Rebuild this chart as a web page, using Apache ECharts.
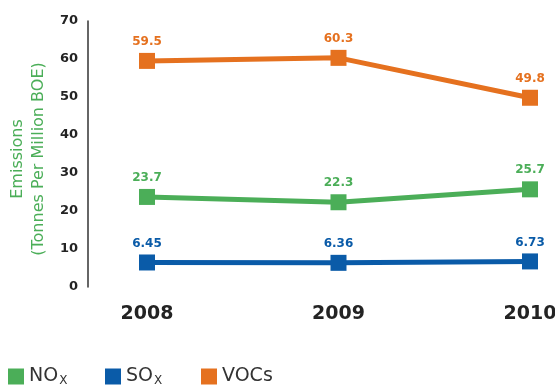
<!DOCTYPE html>
<html>
<head>
<meta charset="utf-8">
<script src="https://cdn.jsdelivr.net/npm/echarts@6/dist/echarts.min.js"></script>
<style>
html,body{margin:0;padding:0;background:#fff;}
#chart{width:555px;height:387px;}
</style>
</head>
<body>
<div id="chart"></div>
<script>
// Emissions intensity by year
const years = ['2008', '2009', '2010'];
const noxValues = [23.7, 22.3, 25.7];
const soxValues = [6.45, 6.36, 6.73];
const vocValues = [59.5, 60.3, 49.8];
const yTicks = [0, 10, 20, 30, 40, 50, 60, 70];
const seriesNames = ['NOx', 'SOx', 'VOCs'];

const GREEN = '#4bae58';
const BLUE = '#0a5ba8';
const ORANGE = '#e5711f';
const TEXT = '#232323';
const FONT = 'DejaVu Sans';

function lineSeries(name, data, color) {
  return {
    name: name,
    type: 'line',
    data: data,
    symbol: 'rect',
    symbolSize: 16,
    lineStyle: { color: color, width: 5 },
    itemStyle: { color: color },
    label: {
      show: true,
      position: 'top',
      distance: 5,
      color: color,
      fontFamily: FONT,
      fontWeight: 'bold',
      fontSize: 12
    },
    animation: false
  };
}

// legend entries with subscript X
const legendText = {
  NOx: '{a|NO}{s|X}',
  SOx: '{a|SO}{s|X}',
  VOCs: '{a|VOCs}'
};
const legendLeft = [3, 100, 196];

function legendFor(name, i) {
  return {
    left: legendLeft[i],
    top: 362,
    itemWidth: 16,
    itemHeight: 16,
    icon: 'rect',
    data: [name],
    formatter: function (n) { return legendText[n]; },
    textStyle: {
      color: TEXT,
      fontFamily: FONT,
      rich: {
        a: { fontSize: 19, fontFamily: FONT, color: '#333' },
        s: { fontSize: 12, fontFamily: FONT, color: '#333', verticalAlign: 'bottom', padding: [9, 0, 0, 1] }
      }
    }
  };
}

const chart = echarts.init(document.getElementById('chart'));
chart.setOption({
  backgroundColor: '#fff',
  animation: false,
  grid: { left: 147, right: 25, top: 21, bottom: 100, outerBoundsMode: 'none' },
  xAxis: {
    type: 'category',
    data: years,
    boundaryGap: false,
    axisLine: { show: false },
    axisTick: { show: false },
    axisLabel: {
      margin: 18,
      color: TEXT,
      fontFamily: FONT,
      fontSize: 19,
      fontWeight: 'bold'
    }
  },
  yAxis: {
    type: 'value',
    min: yTicks[0],
    max: yTicks[yTicks.length - 1],
    interval: 10,
    offset: 59,
    splitLine: { show: false },
    axisTick: { show: false },
    axisLine: { show: true, lineStyle: { color: '#333', width: 1.5 } },
    axisLabel: {
      margin: 10,
      color: TEXT,
      fontFamily: FONT,
      fontSize: 13,
      fontWeight: 'bold'
    },
    name: 'Emissions\n(Tonnes Per Million BOE)',
    nameLocation: 'middle',
    nameGap: 38,
    nameTextStyle: {
      color: GREEN,
      fontFamily: FONT,
      fontSize: 16,
      lineHeight: 21,
      padding: [0, 10, 0, 0]
    }
  },
  legend: seriesNames.map(legendFor),
  series: [
    lineSeries('NOx', noxValues, GREEN),
    lineSeries('SOx', soxValues, BLUE),
    lineSeries('VOCs', vocValues, ORANGE)
  ]
});
</script>
</body>
</html>
